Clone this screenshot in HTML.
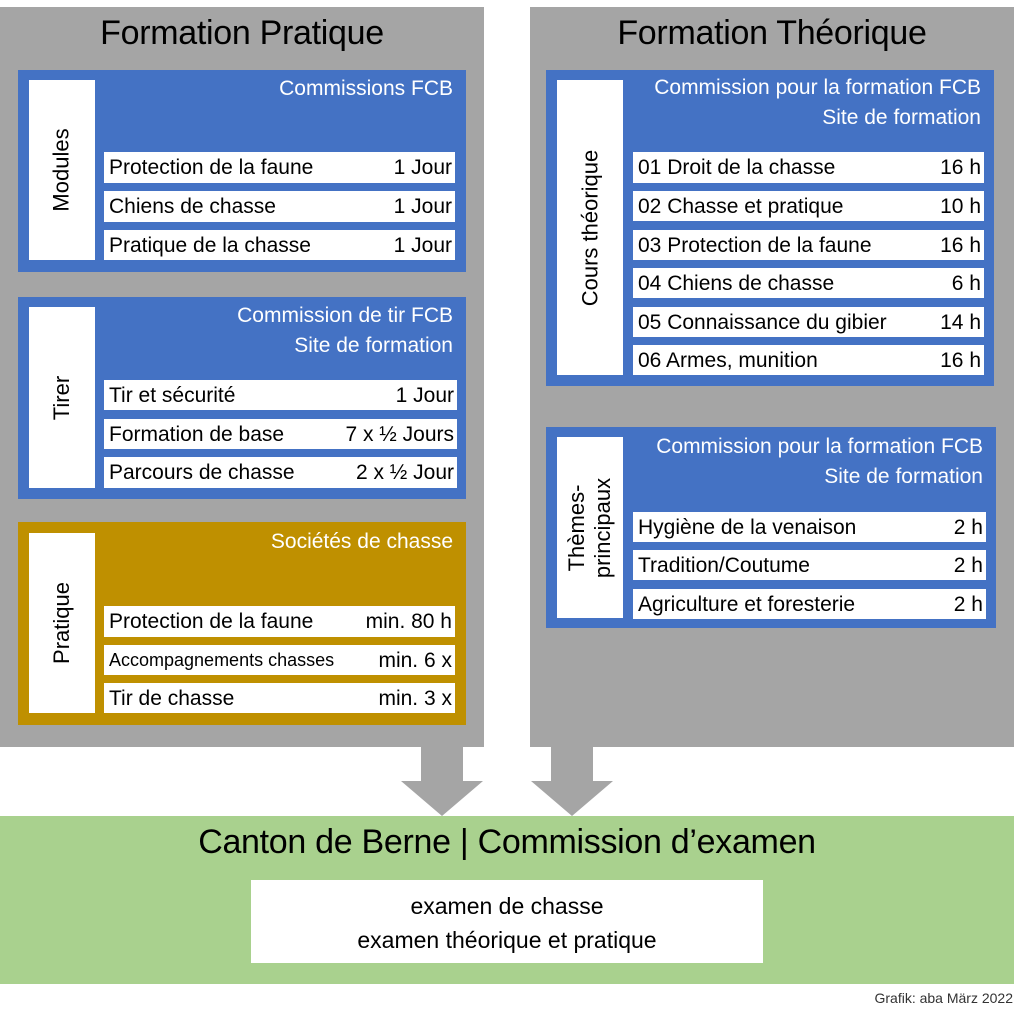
<!DOCTYPE html>
<html><head><meta charset="utf-8"><style>
body{margin:0;width:1024px;height:1021px;position:relative;background:#fff;font-family:"Liberation Sans",sans-serif;overflow:hidden}
div{position:absolute;box-sizing:border-box}
.g{background:#a5a5a5}
.b{background:#4472c4}
.o{background:#bf9000}
.w{background:#fff}
.t{font-size:34px;color:#000;text-align:center;top:14px;letter-spacing:-0.3px}
.h{color:#fff;font-size:21px;text-align:right;line-height:30px}
.r{background:#fff;font-size:21px;line-height:31px;padding:0 3px 0 5px;white-space:nowrap}
.r span{float:right}
.v{display:flex;align-items:center;justify-content:center}
.v p{margin:0;transform:rotate(-90deg);white-space:nowrap;font-size:22px;text-align:center;line-height:26px}
</style></head><body>
<div class="g" style="left:0;top:7px;width:484px;height:740px"></div>
<div class="g" style="left:530px;top:7px;width:484px;height:740px"></div>
<div class="t" style="left:0;width:484px">Formation Pratique</div>
<div class="t" style="left:530px;width:484px">Formation Théorique</div>

<div class="b" style="left:18px;top:70px;width:448px;height:202px"></div>
<div class="w v" style="left:29px;top:80px;width:66px;height:180px"><p>Modules</p></div>
<div class="h" style="left:104px;top:74px;width:349px">Commissions FCB</div>
<div class="r" style="left:104px;top:152px;width:351px;height:31px">Protection de la faune<span>1 Jour</span></div>
<div class="r" style="left:104px;top:191px;width:351px;height:31px">Chiens de chasse<span>1 Jour</span></div>
<div class="r" style="left:104px;top:230px;width:351px;height:30px">Pratique de la chasse<span>1 Jour</span></div>

<div class="b" style="left:18px;top:297px;width:448px;height:202px"></div>
<div class="w v" style="left:29px;top:307px;width:66px;height:181px"><p>Tirer</p></div>
<div class="h" style="left:104px;top:301px;width:349px">Commission de tir FCB<br>Site de formation</div>
<div class="r" style="left:104px;top:380px;width:353px;height:30px">Tir et sécurité<span>1 Jour</span></div>
<div class="r" style="left:104px;top:419px;width:353px;height:30px">Formation de base<span>7 x ½ Jours</span></div>
<div class="r" style="left:104px;top:457px;width:353px;height:31px">Parcours de chasse<span>2 x ½ Jour</span></div>

<div class="o" style="left:18px;top:522px;width:448px;height:203px"></div>
<div class="w v" style="left:29px;top:533px;width:66px;height:180px"><p>Pratique</p></div>
<div class="h" style="left:104px;top:527px;width:349px">Sociétés de chasse</div>
<div class="r" style="left:104px;top:606px;width:351px;height:31px">Protection de la faune<span>min. 80 h</span></div>
<div class="r" style="left:104px;top:645px;width:351px;height:30px;font-size:18px">Accompagnements chasses<span style="font-size:21px">min. 6 x</span></div>
<div class="r" style="left:104px;top:683px;width:351px;height:30px">Tir de chasse<span>min. 3 x</span></div>

<div class="b" style="left:546px;top:70px;width:448px;height:316px"></div>
<div class="w v" style="left:557px;top:80px;width:66px;height:295px"><p>Cours théorique</p></div>
<div class="h" style="left:623px;top:73px;width:358px">Commission pour la formation FCB<br>Site de formation</div>
<div class="r" style="left:633px;top:152px;width:351px;height:31px">01 Droit de la chasse<span>16 h</span></div>
<div class="r" style="left:633px;top:191px;width:351px;height:30px">02 Chasse et pratique<span>10 h</span></div>
<div class="r" style="left:633px;top:230px;width:351px;height:30px">03 Protection de la faune<span>16 h</span></div>
<div class="r" style="left:633px;top:268px;width:351px;height:30px">04 Chiens de chasse<span>6 h</span></div>
<div class="r" style="left:633px;top:307px;width:351px;height:30px">05 Connaissance du gibier<span>14 h</span></div>
<div class="r" style="left:633px;top:345px;width:351px;height:30px">06 Armes, munition<span>16 h</span></div>

<div class="b" style="left:546px;top:427px;width:450px;height:201px"></div>
<div class="w v" style="left:557px;top:437px;width:66px;height:181px"><p>Thèmes-<br>principaux</p></div>
<div class="h" style="left:623px;top:432px;width:360px">Commission pour la formation FCB<br>Site de formation</div>
<div class="r" style="left:633px;top:512px;width:353px;height:30px">Hygiène de la venaison<span>2 h</span></div>
<div class="r" style="left:633px;top:550px;width:353px;height:30px">Tradition/Coutume<span>2 h</span></div>
<div class="r" style="left:633px;top:589px;width:353px;height:30px">Agriculture et foresterie<span>2 h</span></div>

<svg style="position:absolute;left:0;top:0" width="1024" height="1021">
<polygon points="421,747 463,747 463,781 483,781 442,816 401,781 421,781" fill="#a5a5a5"/>
<polygon points="551,747 593,747 593,781 613,781 572,816 531,781 551,781" fill="#a5a5a5"/>
</svg>

<div style="left:0;top:816px;width:1014px;height:168px;background:#a9d18e"></div>
<div style="left:0;top:823px;width:1014px;text-align:center;font-size:34px;letter-spacing:-0.3px">Canton de Berne | Commission d’examen</div>
<div class="w" style="left:251px;top:880px;width:512px;height:83px;text-align:center;font-size:23px;line-height:34px;padding-top:9px">examen de chasse<br>examen théorique et pratique</div>
<div style="left:800px;top:990px;width:213px;text-align:right;font-size:14px;color:#333">Grafik: aba März 2022</div>
</body></html>
